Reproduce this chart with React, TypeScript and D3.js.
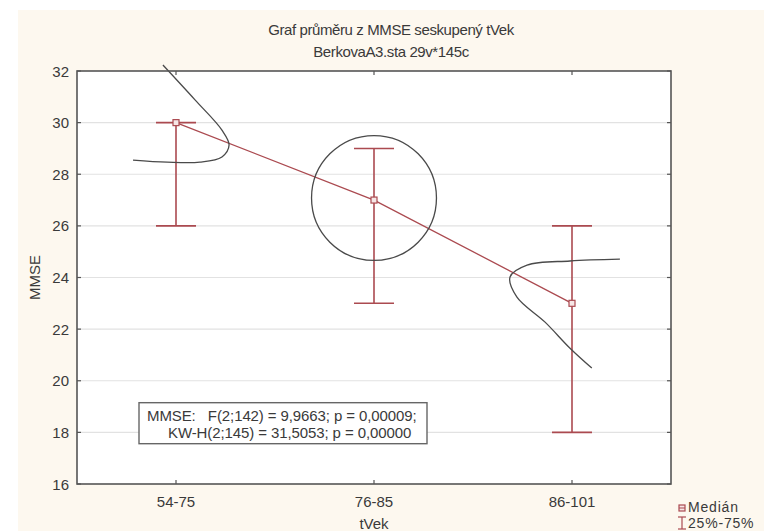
import React from 'react';
import * as d3 from 'd3';

// chart data
const categories = ['54-75', '76-85', '86-101'];
const medians = [30, 27, 23];
const q25 = [26, 23, 18];
const q75 = [30, 29, 26];
const yTicks = [16, 18, 20, 22, 24, 26, 28, 30, 32];

// hand drawn annotations (category index, MMSE value)
const curveTop = [
  [-0.066, 32.23], [0.096, 30.88], [0.232, 29.71], [0.268, 29.13],
  [0.232, 28.67], [0.121, 28.47], [-0.045, 28.47], [-0.217, 28.55],
];
const curveRight = [
  [2.242, 24.71], [1.99, 24.64], [1.773, 24.48], [1.687, 24.02],
  [1.722, 23.24], [1.864, 22.27], [1.99, 21.26], [2.1, 20.49],
];
const circleCenter = [1, 27.08];
const circleRadius = 2.42; // in MMSE units

const statsLines = [
  'MMSE:   F(2;142) = 9,9663; p = 0,00009;',
  'KW-H(2;145) = 31,5053; p = 0,00000',
];

const W = 764;
const H = 531;
const margin = { left: 77, right: 93, top: 71, bottom: 47 };
const red = '#ab4a50';
const frame = '#555';
const txt = '#3a3a3a';
const font = '"Liberation Sans", Arial, sans-serif';

export default function App() {
  const x = d3.scaleLinear().domain([-0.5, 2.5]).range([margin.left, W - margin.right]);
  const y = d3.scaleLinear().domain([16, 32]).range([H - margin.bottom, margin.top]);
  const x0 = margin.left, x1 = W - margin.right, y0 = margin.top, y1 = H - margin.bottom;

  const medLine = d3.line<number>().x((d, i) => x(i)).y(d => y(d))(medians);
  const curve = d3.line<number[]>().x(d => x(d[0])).y(d => y(d[1])).curve(d3.curveCatmullRom.alpha(0.5));
  const cap = 20;
  const sq = 3;
  const boxTop = y(19.15);

  return (
    <svg width={W} height={H} style={{ position: 'absolute', left: 0, top: 0 }} fontFamily={font}>
      <rect x={0} y={0} width={W} height={H} fill="#fff" />
      <rect x={18} y={10} width={W - 18} height={H - 10} fill="#fdf8ef" />
      <rect x={x0} y={y0} width={x1 - x0} height={y1 - y0} fill="#fff" />

      {/* title */}
      <text x={391} y={35} textAnchor="middle" fontSize={15} fill={txt} letterSpacing={-0.4}>
        Graf průměru z MMSE seskupený tVek
      </text>
      <text x={391} y={57} textAnchor="middle" fontSize={15} fill={txt} letterSpacing={-0.4}>
        BerkovaA3.sta 29v*145c
      </text>

      {/* grid */}
      {yTicks.filter(t => t > 16 && t < 32).map(t => (
        <line key={'g' + t} x1={x0} x2={x1} y1={y(t)} y2={y(t)} stroke="#e2e2e2" strokeWidth={1.2} />
      ))}

      {/* y ticks */}
      {yTicks.map(t => (
        <g key={'t' + t}>
          <line x1={x0} x2={x0 + 4} y1={y(t)} y2={y(t)} stroke={frame} strokeWidth={1.2} />
          <line x1={x1} x2={x1 - 4} y1={y(t)} y2={y(t)} stroke={frame} strokeWidth={1.2} />
          <text x={x0 - 8} y={y(t) + 5.5} textAnchor="end" fontSize={15} fill={txt}>{t}</text>
        </g>
      ))}

      {/* x ticks */}
      {categories.map((c, i) => (
        <g key={c}>
          <line x1={x(i)} x2={x(i)} y1={y0} y2={y0 + 4} stroke={frame} strokeWidth={1.2} />
          <line x1={x(i)} x2={x(i)} y1={y1} y2={y1 - 4} stroke={frame} strokeWidth={1.2} />
          <text x={x(i)} y={y1 + 23} textAnchor="middle" fontSize={15} fill={txt}>{c}</text>
        </g>
      ))}

      {/* axis titles */}
      <text transform={`translate(40,${(y0 + y1) / 2}) rotate(-90)`} textAnchor="middle" fontSize={15} fill={txt}>MMSE</text>
      <text x={x(1)} y={529} textAnchor="middle" fontSize={15} fill={txt}>tVek</text>

      {/* error bars */}
      {categories.map((c, i) => (
        <g key={'e' + c} stroke={red} strokeWidth={1.6}>
          <line x1={x(i)} x2={x(i)} y1={y(q25[i])} y2={y(q75[i])} />
          <line x1={x(i) - cap} x2={x(i) + cap} y1={y(q25[i])} y2={y(q25[i])} />
          <line x1={x(i) - cap} x2={x(i) + cap} y1={y(q75[i])} y2={y(q75[i])} />
        </g>
      ))}

      <path d={medLine || ''} fill="none" stroke={red} strokeWidth={1.3} />

      {medians.map((m, i) => (
        <rect key={'m' + i} x={x(i) - sq} y={y(m) - sq} width={sq * 2} height={sq * 2} fill="#f6e6e6" stroke={red} strokeWidth={1.2} />
      ))}

      {/* annotations */}
      <path d={curve(curveTop) || ''} fill="none" stroke="#4a4a4a" strokeWidth={1.3} />
      <path d={curve(curveRight) || ''} fill="none" stroke="#4a4a4a" strokeWidth={1.3} />
      <circle cx={x(circleCenter[0])} cy={y(circleCenter[1])} r={y(circleCenter[1]) - y(circleCenter[1] + circleRadius)} fill="none" stroke="#4a4a4a" strokeWidth={1.3} />

      {/* frame */}
      <rect x={x0} y={y0} width={x1 - x0} height={y1 - y0} fill="none" stroke={frame} strokeWidth={1.6} />

      {/* stats box */}
      <rect x={x0 + 62} y={boxTop} width={288} height={41} fill="#fff" stroke="#666" strokeWidth={1.4} />
      <text x={x0 + 70} y={boxTop + 18} fontSize={15} fill={txt} letterSpacing={-0.1} style={{ whiteSpace: 'pre' }}>{statsLines[0]}</text>
      <text x={x0 + 91} y={boxTop + 35} fontSize={15} fill={txt} letterSpacing={-0.1}>{statsLines[1]}</text>

      {/* legend */}
      <rect x={679} y={505} width={6} height={6} fill="#f6e6e6" stroke={red} strokeWidth={1.2} />
      <line x1={679} x2={685} y1={508} y2={508} stroke={red} strokeWidth={1} />
      <text x={688} y={512} fontSize={14} fill={txt} letterSpacing={0.8}>Medián</text>
      <g stroke={red} strokeWidth={1.2}>
        <line x1={682} x2={682} y1={517} y2={529} />
        <line x1={678} x2={686} y1={517} y2={517} />
        <line x1={678} x2={686} y1={529} y2={529} />
      </g>
      <text x={688} y={528} fontSize={14} fill={txt} letterSpacing={0.8}>25%-75%</text>
    </svg>
  );
}
